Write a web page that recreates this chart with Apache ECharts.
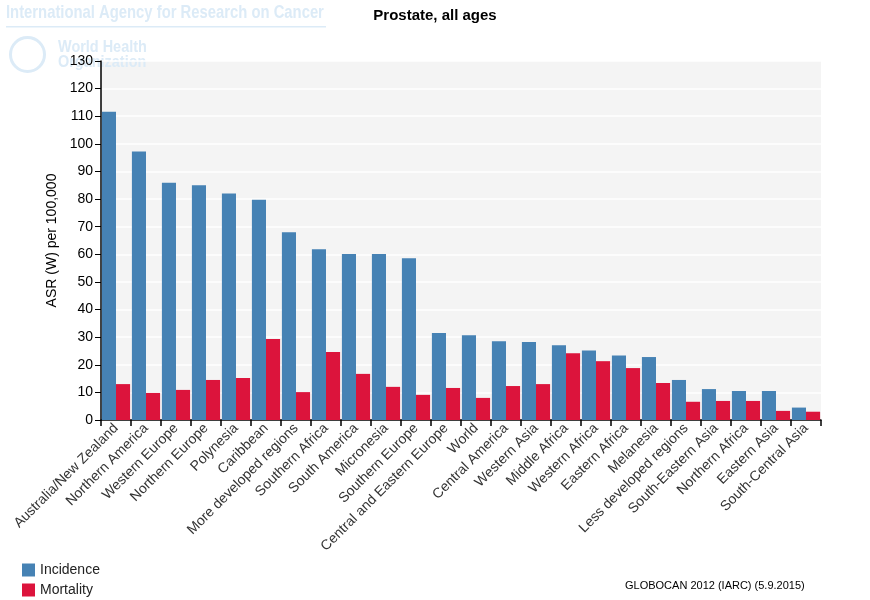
<!DOCTYPE html>
<html><head><meta charset="utf-8">
<script src="https://cdn.jsdelivr.net/npm/echarts@6/dist/echarts.min.js"></script>
<style>html,body{margin:0;padding:0;background:#fff}#c{width:870px;height:600px}</style>
</head><body><div id="c"></div>
<script>
const categories = ["Australia/New Zealand","Northern America","Western Europe","Northern Europe","Polynesia","Caribbean","More developed regions","Southern Africa","South America","Micronesia","Southern Europe","Central and Eastern Europe","World","Central America","Western Asia","Middle Africa","Western Africa","Eastern Africa","Melanesia","Less developed regions","South-Eastern Asia","Northern Africa","Eastern Asia","South-Central Asia"];
const incidence = [111.6,97.2,85.9,85.0,82.0,79.8,68.0,61.8,60.1,60.1,58.6,31.5,30.7,28.5,28.2,27.1,25.2,23.4,22.8,14.5,11.2,10.5,10.5,4.5];
const mortality = [13.0,9.8,10.9,14.5,15.2,29.3,10.1,24.6,16.7,12.0,9.1,11.6,8.0,12.3,13.0,24.2,21.3,18.8,13.4,6.6,6.9,6.9,3.3,3.0];
const seriesNames = ["Incidence","Mortality"];
const yTicks = {min:0, max:130, interval:10};

const chart = echarts.init(document.getElementById('c'), null, {renderer:'canvas'});
const FONT = '"Liberation Sans", Arial, sans-serif';
const WM = '#dcebf7';
const legendText = {fontSize:14, color:'#222', fontFamily:FONT};
chart.setOption({
  animation:false,
  textStyle:{fontFamily:FONT},
  title:{text:"Prostate, all ages", left:'center', top:3, textStyle:{fontSize:15, fontWeight:'bold', color:'#000', fontFamily:FONT}},
  graphic:[
    {type:'text', left:6, top:3, z:0, scaleX:0.78, style:{text:"International Agency for Research on Cancer", fill:WM, font:'bold 19px "Liberation Sans", Arial, sans-serif'}},
    {type:'rect', left:6, top:26, z:0, shape:{width:320, height:1.5}, style:{fill:WM}},
    {type:'circle', left:8, top:35, z:0, shape:{r:17}, style:{fill:'none', stroke:WM, lineWidth:3}},
    {type:'text', left:58, top:39, z:0, scaleX:0.85, style:{text:"World Health\nOrganization", fill:WM, font:'bold 17px "Liberation Sans", Arial, sans-serif', lineHeight:15}},
    {type:'text', left:625, top:580, style:{text:"GLOBOCAN 2012 (IARC) (5.9.2015)", fill:'#000', font:'11px "Liberation Sans", Arial, sans-serif'}}
  ],
  legend:[
    {left:17, top:558, itemWidth:13, itemHeight:13, icon:'rect', textStyle:legendText, data:[seriesNames[0]]},
    {left:17, top:578, itemWidth:13, itemHeight:13, icon:'rect', textStyle:legendText, data:[seriesNames[1]]}
  ],
  grid:{left:101, right:49, top:61, bottom:180, show:true, backgroundColor:'#f4f4f4', borderWidth:0},
  xAxis:{type:'category', data:categories,
    axisLine:{lineStyle:{color:'#000', width:1.5}},
    axisTick:{show:true, alignWithLabel:false, length:6, lineStyle:{color:'#000', width:1.5}},
    axisLabel:{rotate:45, fontSize:14, color:'#333', margin:6, interval:0, fontFamily:FONT}},
  yAxis:{type:'value', min:yTicks.min, max:yTicks.max, interval:yTicks.interval,
    name:"ASR (W) per 100,000", nameLocation:'middle', nameGap:35, nameTextStyle:{fontSize:14, color:'#000', fontFamily:FONT},
    axisLine:{show:true, lineStyle:{color:'#000', width:1.5}},
    axisTick:{show:true, length:6, lineStyle:{color:'#000'}},
    splitLine:{lineStyle:{color:'#fff', width:1.5}},
    axisLabel:{fontSize:14, color:'#000', margin:8, fontFamily:FONT}},
  series:[
    {name:seriesNames[0], type:'bar', data:incidence, itemStyle:{color:'#4682b4'}, barGap:'0%', barCategoryGap:'6%'},
    {name:seriesNames[1], type:'bar', data:mortality, itemStyle:{color:'#dc143c'}, barGap:'0%', barCategoryGap:'6%'}
  ]
});
</script></body></html>
